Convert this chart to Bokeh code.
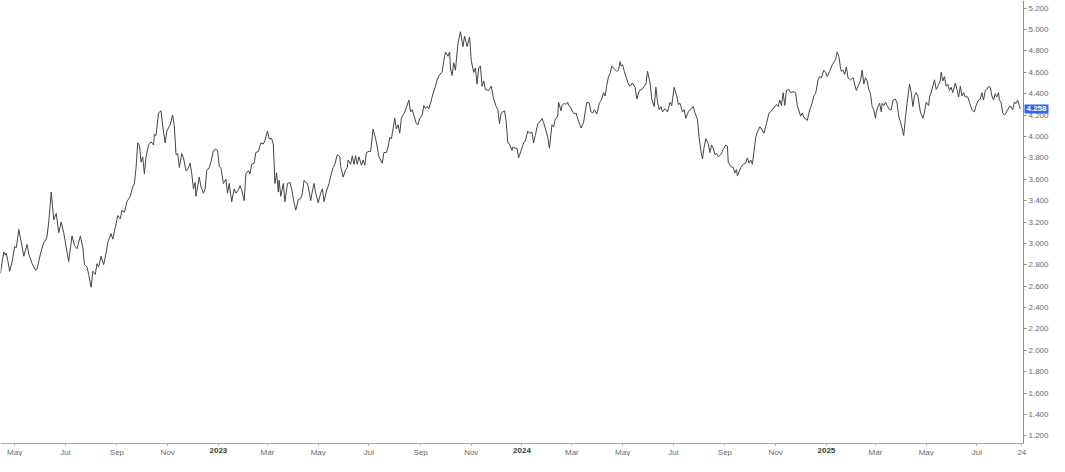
import pandas as pd
from bokeh.plotting import figure
from bokeh.models import ColumnDataSource, FixedTicker, PrintfTickFormatter, Label, Range1d
from bokeh.embed import file_html
from bokeh.resources import INLINE

# ---- data ----
start_date = "2022-04-14"
axis_end_date = "2025-08-26"

day_offset = [
    0, 2, 4, 6, 7, 9, 11, 14, 17, 19, 22, 25, 28, 32, 34, 38, 42, 44, 48, 52,
    55, 56, 58, 61, 64, 67, 70, 73, 76, 80, 82, 86, 89, 92, 96, 99, 101, 104, 106, 109,
    111, 114, 116, 118, 121, 124, 127, 129, 133, 135, 138, 141, 144, 146, 149, 152, 156, 159, 161, 163,
    165, 167, 169, 171, 173, 175, 178, 181, 184, 185, 187, 190, 193, 195, 198, 200, 204, 207, 209, 211,
    213, 215, 218, 220, 223, 225, 228, 230, 232, 234, 235, 239, 241, 244, 246, 248, 251, 253, 256, 259,
    261, 263, 265, 268, 271, 273, 275, 278, 281, 283, 286, 288, 290, 293, 295, 298, 300, 302, 305, 307,
    310, 313, 316, 318, 321, 323, 326, 328, 330, 332, 334, 335, 337, 340, 342, 345, 348, 350, 353, 355,
    358, 361, 363, 365, 367, 369, 371, 373, 375, 377, 379, 382, 385, 387, 389, 392, 395, 398, 400, 402,
    405, 408, 409, 412, 415, 417, 418, 421, 423, 425, 427, 429, 431, 434, 436, 438, 440, 443, 445, 448,
    451, 453, 455, 457, 459, 461, 464, 466, 468, 470, 472, 474, 476, 478, 480, 482, 486, 488, 491, 493,
    495, 497, 500, 502, 504, 507, 509, 511, 513, 515, 517, 520, 523, 525, 528, 531, 533, 535, 538, 540,
    541, 543, 545, 547, 550, 553, 556, 558, 561, 564, 566, 569, 571, 573, 575, 577, 579, 581, 583, 587,
    590, 593, 596, 598, 600, 602, 606, 608, 610, 612, 615, 616, 619, 621, 623, 626, 629, 631, 634, 636,
    639, 641, 643, 646, 649, 651, 653, 656, 658, 660, 663, 665, 667, 670, 671, 674, 675, 678, 680, 682,
    683, 685, 688, 690, 692, 695, 698, 701, 703, 705, 708, 710, 712, 714, 717, 720, 723, 725, 727, 729,
    731, 733, 735, 738, 741, 743, 745, 746, 748, 750, 752, 755, 757, 760, 763, 765, 768, 771, 774, 776,
    778, 781, 783, 786, 788, 790, 792, 794, 796, 799, 802, 805, 807, 810, 813, 815, 817, 820, 822, 824,
    827, 830, 833, 835, 838, 840, 842, 844, 846, 848, 851, 853, 855, 857, 859, 861, 863, 866, 869, 872,
    874, 875, 878, 881, 883, 885, 886, 890, 893, 896, 898, 900, 902, 904, 908, 910, 913, 915, 918, 920,
    924, 926, 929, 933, 935, 937, 939, 941, 943, 945, 948, 950, 953, 956, 958, 962, 964, 966, 970, 973,
    975, 978, 980, 983, 985, 987, 990, 992, 994, 997, 1000, 1004, 1006, 1008, 1010, 1011, 1013, 1015, 1017, 1019,
    1022, 1025, 1027, 1029, 1031, 1034, 1036, 1038, 1040, 1042, 1044, 1046, 1048, 1050, 1052, 1053, 1055, 1057, 1059, 1060,
    1062, 1064, 1066, 1069, 1071, 1073, 1076, 1078, 1080, 1083, 1086, 1088, 1090, 1093, 1095, 1097, 1099, 1101, 1103, 1106,
    1109, 1111, 1113, 1116, 1117, 1119, 1121, 1123, 1125, 1127, 1130, 1131, 1133, 1135, 1137, 1139, 1141, 1143, 1145, 1148,
    1150, 1152, 1154, 1156, 1158, 1160, 1163, 1165, 1168, 1171, 1173, 1176, 1178, 1180, 1182, 1184, 1186, 1188, 1190, 1192,
    1194, 1196, 1198, 1200, 1201, 1203, 1205, 1207, 1209, 1211, 1213, 1215, 1217, 1219, 1221, 1223, 1225, 1226,
]

yield_pct = [
    2.72, 2.83, 2.92, 2.89, 2.91, 2.83, 2.74, 2.83, 2.97, 2.96, 3.13, 3.01, 2.88, 2.99, 2.90, 2.81, 2.75, 2.76, 2.90, 3.01,
    3.04, 3.07, 3.20, 3.48, 3.22, 3.28, 3.10, 3.20, 3.10, 2.92, 2.83, 3.07, 2.98, 2.95, 3.07, 2.96, 2.80, 2.78, 2.71, 2.59,
    2.74, 2.71, 2.81, 2.78, 2.88, 2.80, 2.91, 3.01, 3.09, 3.04, 3.15, 3.26, 3.23, 3.31, 3.29, 3.39, 3.44, 3.53, 3.56, 3.71,
    3.94, 3.92, 3.76, 3.81, 3.65, 3.81, 3.92, 3.95, 3.92, 4.02, 4.01, 4.22, 4.24, 4.10, 3.94, 4.05, 4.11, 4.20, 4.10, 3.83,
    3.84, 3.71, 3.84, 3.80, 3.68, 3.69, 3.75, 3.65, 3.51, 3.57, 3.44, 3.62, 3.53, 3.47, 3.51, 3.68, 3.71, 3.76, 3.87, 3.88,
    3.87, 3.72, 3.71, 3.56, 3.60, 3.47, 3.56, 3.39, 3.51, 3.47, 3.50, 3.54, 3.50, 3.40, 3.65, 3.68, 3.65, 3.74, 3.75, 3.85,
    3.86, 3.94, 3.93, 3.96, 4.05, 3.98, 3.98, 3.93, 3.56, 3.66, 3.48, 3.59, 3.44, 3.56, 3.39, 3.56, 3.57, 3.51, 3.38, 3.31,
    3.41, 3.42, 3.47, 3.59, 3.57, 3.56, 3.49, 3.40, 3.49, 3.56, 3.47, 3.38, 3.47, 3.51, 3.39, 3.49, 3.56, 3.66, 3.71, 3.74,
    3.83, 3.81, 3.72, 3.62, 3.69, 3.71, 3.78, 3.74, 3.82, 3.74, 3.82, 3.74, 3.81, 3.73, 3.78, 3.73, 3.85, 3.86, 3.86, 4.07,
    3.98, 3.90, 3.81, 3.78, 3.75, 3.85, 3.85, 3.90, 3.99, 3.98, 4.07, 4.17, 4.07, 4.11, 4.03, 4.17, 4.23, 4.27, 4.34, 4.23,
    4.25, 4.20, 4.12, 4.11, 4.17, 4.20, 4.29, 4.26, 4.28, 4.26, 4.31, 4.40, 4.47, 4.53, 4.58, 4.60, 4.71, 4.79, 4.75, 4.79,
    4.64, 4.57, 4.69, 4.62, 4.87, 4.98, 4.84, 4.94, 4.84, 4.93, 4.71, 4.60, 4.64, 4.49, 4.64, 4.66, 4.47, 4.52, 4.44, 4.43,
    4.47, 4.35, 4.28, 4.25, 4.12, 4.22, 4.24, 4.14, 3.94, 3.93, 3.87, 3.90, 3.89, 3.89, 3.80, 3.87, 3.94, 3.96, 4.05, 4.03,
    4.04, 3.94, 4.01, 4.12, 4.14, 4.17, 4.13, 4.05, 3.99, 3.89, 4.11, 4.09, 4.16, 4.19, 4.32, 4.24, 4.29, 4.31, 4.30, 4.32,
    4.29, 4.28, 4.23, 4.21, 4.22, 4.14, 4.08, 4.13, 4.23, 4.32, 4.31, 4.23, 4.22, 4.25, 4.21, 4.31, 4.35, 4.41, 4.38, 4.48,
    4.56, 4.59, 4.66, 4.63, 4.61, 4.62, 4.70, 4.66, 4.67, 4.61, 4.56, 4.49, 4.47, 4.50, 4.46, 4.35, 4.43, 4.44, 4.47, 4.49,
    4.61, 4.50, 4.35, 4.28, 4.46, 4.32, 4.25, 4.28, 4.23, 4.26, 4.23, 4.32, 4.29, 4.46, 4.38, 4.30, 4.31, 4.23, 4.25, 4.17,
    4.23, 4.26, 4.28, 4.22, 4.16, 3.99, 3.87, 3.79, 3.90, 3.98, 3.93, 3.85, 3.92, 3.89, 3.83, 3.84, 3.81, 3.83, 3.88, 3.92,
    3.91, 3.76, 3.72, 3.71, 3.66, 3.69, 3.63, 3.71, 3.74, 3.75, 3.80, 3.75, 3.78, 3.74, 3.99, 4.04, 4.09, 4.07, 4.03, 4.09,
    4.22, 4.23, 4.26, 4.30, 4.28, 4.34, 4.29, 4.41, 4.29, 4.43, 4.44, 4.41, 4.42, 4.41, 4.29, 4.19, 4.22, 4.18, 4.15, 4.25,
    4.29, 4.38, 4.40, 4.53, 4.56, 4.55, 4.62, 4.60, 4.56, 4.61, 4.67, 4.72, 4.79, 4.75, 4.64, 4.61, 4.62, 4.58, 4.65, 4.55,
    4.53, 4.55, 4.49, 4.43, 4.47, 4.52, 4.62, 4.49, 4.55, 4.52, 4.44, 4.40, 4.28, 4.25, 4.17, 4.23, 4.28, 4.31, 4.23, 4.31,
    4.29, 4.32, 4.29, 4.25, 4.25, 4.34, 4.35, 4.31, 4.19, 4.11, 4.01, 4.17, 4.31, 4.49, 4.41, 4.28, 4.38, 4.41, 4.38, 4.23,
    4.17, 4.23, 4.32, 4.29, 4.37, 4.41, 4.47, 4.53, 4.44, 4.47, 4.52, 4.60, 4.52, 4.56, 4.47, 4.49, 4.43, 4.46, 4.41, 4.50,
    4.44, 4.37, 4.47, 4.38, 4.41, 4.37, 4.37, 4.32, 4.25, 4.23, 4.29, 4.34, 4.35, 4.41, 4.34, 4.43, 4.44, 4.47, 4.46, 4.38,
    4.34, 4.40, 4.37, 4.41, 4.34, 4.32, 4.22, 4.20, 4.22, 4.25, 4.28, 4.28, 4.25, 4.32, 4.31, 4.34, 4.29, 4.258,
]

month_tick_dates = [
    "2022-05-01", "2022-07-01", "2022-09-01", "2022-11-01", "2023-01-01", "2023-03-01", "2023-05-01",
    "2023-07-01", "2023-09-01", "2023-11-01", "2024-01-01", "2024-03-01", "2024-05-01", "2024-07-01",
    "2024-09-01", "2024-11-01", "2025-01-01", "2025-03-01", "2025-05-01", "2025-07-01", "2025-08-24",
]
month_tick_labels = [
    "May", "Jul", "Sep", "Nov", "2023", "Mar", "May", "Jul", "Sep", "Nov", "2024",
    "Mar", "May", "Jul", "Sep", "Nov", "2025", "Mar", "May", "Jul", "24",
]
price_ticks = [1.2, 1.4, 1.6, 1.8, 2.0, 2.2, 2.4, 2.6, 2.8, 3.0, 3.2, 3.4, 3.6, 3.8, 4.0,
               4.2, 4.4, 4.6, 4.8, 5.0, 5.2]
price_axis_low, price_axis_high = 1.128, 5.272
last_price = 4.258
last_price_text = "4.258"

# ---- layout constants (pixels) ----
W, H = 1049, 456
plot_w = 1023          # width of the chart area left of the price axis
plot_h = 443           # height of the chart area above the time axis


def to_ms(ts):
    return pd.Timestamp(ts).value / 1e6


start_ts = pd.Timestamp(start_date)
dates = [start_ts + pd.Timedelta(days=d) for d in day_offset]
source = ColumnDataSource(data=dict(date=dates, value=yield_pct))

x0 = to_ms(start_date)
x1 = to_ms(axis_end_date)
x_far = x1 + (x1 - x0) * (W - plot_w) / plot_w
y_low = price_axis_low - (price_axis_high - price_axis_low) * (H - plot_h) / plot_h

p = figure(
    width=W, height=H,
    x_axis_type="datetime", y_axis_location="right",
    x_range=Range1d(x0, x_far), y_range=Range1d(y_low, price_axis_high),
    toolbar_location=None, output_backend="svg",
    min_border=0, min_border_right=0, min_border_left=0, min_border_top=0, min_border_bottom=0,
)
p.background_fill_color = "white"
p.border_fill_color = "white"
p.outline_line_color = None
p.xgrid.visible = False
p.ygrid.visible = False

p.line(x="date", y="value", source=source, line_color="#444444", line_width=1.0)

label_font = "Liberation Sans"
axis_color = "#8e8e8e"
text_color = "#6a6a6a"

# right price axis, pinned at the end of the time span
ya = p.yaxis[0]
ya.fixed_location = x1
ya.bounds = (price_axis_low, price_axis_high)
ya.ticker = FixedTicker(ticks=price_ticks)
ya.formatter = PrintfTickFormatter(format="%.3f")
ya.axis_line_color = axis_color
ya.major_tick_line_color = axis_color
ya.major_tick_in = 0
ya.major_tick_out = 3
ya.minor_tick_line_color = None
ya.major_label_standoff = 2
ya.major_label_text_font = label_font
ya.major_label_text_font_size = "8px"
ya.major_label_text_color = text_color

# bottom time axis, pinned at the bottom of the price scale
tick_ms = [to_ms(d) for d in month_tick_dates]
year_labels = {"2023", "2024", "2025"}
overrides = {}
for t, lab in zip(tick_ms, month_tick_labels):
    overrides[t] = "" if lab in year_labels else lab

xa = p.xaxis[0]
xa.fixed_location = price_axis_low
xa.bounds = (x0, x1)
xa.ticker = FixedTicker(ticks=tick_ms)
xa.major_label_overrides = overrides
xa.axis_line_color = "#a8a8a8"
xa.major_tick_line_color = "#a8a8a8"
xa.major_tick_in = 0
xa.major_tick_out = 2
xa.minor_tick_line_color = None
xa.major_label_standoff = 2
xa.major_label_text_font = label_font
xa.major_label_text_font_size = "8px"
xa.major_label_text_color = text_color

for t, lab in zip(tick_ms, month_tick_labels):
    if lab in year_labels:
        p.add_layout(Label(
            x=t, y=price_axis_low, y_offset=-4, text=lab,
            text_align="center", text_baseline="top",
            text_font=label_font, text_font_size="8px", text_font_style="bold",
            text_color="#3c3c3c",
        ))

# last-value marker on the price axis
p.add_layout(Label(
    x=x1, y=last_price, x_offset=1, text=last_price_text,
    text_align="left", text_baseline="middle",
    text_font=label_font, text_font_size="8px", text_font_style="bold",
    text_color="white", background_fill_color="#2f66ee",
    padding=2,
))

open("out.html", "w").write(file_html(p, INLINE))
